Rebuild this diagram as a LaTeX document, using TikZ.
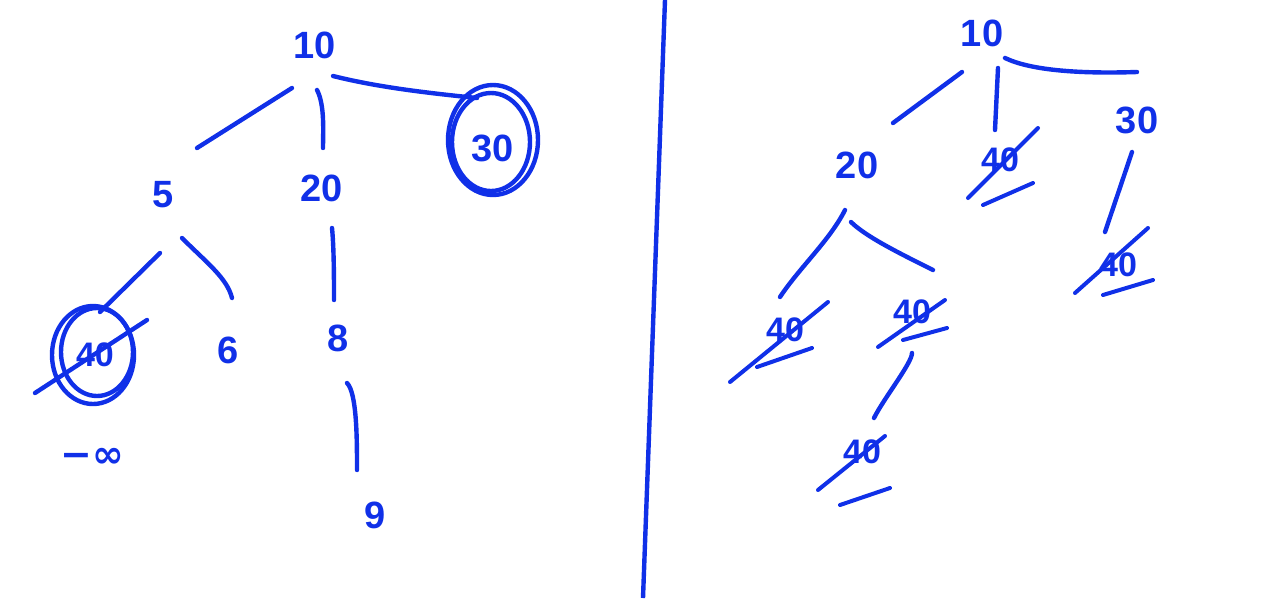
\documentclass[tikz,border=0pt]{standalone}
\usepackage{fontspec}
\setmainfont{Liberation Sans}
\newfontfamily\symfont{DejaVu Sans}
\definecolor{ink}{RGB}{16,48,232}
\begin{document}
\begin{tikzpicture}[x=1pt,y=-1pt,
  every node/.style={text=ink},
  lab/.style={font=\fontsize{38}{40}\selectfont\bfseries, inner sep=0pt},
  slab/.style={font=\fontsize{34}{36}\selectfont\bfseries, inner sep=0pt},
  pen/.style={draw=ink, line width=4.4pt, line cap=round, line join=round},
  thinpen/.style={draw=ink, line width=4pt, line cap=round}]
\useasboundingbox (0,0) rectangle (1278,598);
% ---------- left tree ----------
\node[lab] (n10) at (315,45) {10};
\node[lab] (n5) at (163,195) {5};
\node[lab] (n20) at (322,188) {20};
\node[lab] (n30) at (493,148) {30};
\node[slab] (n40) at (95,355) {40};
\node[lab] (n6) at (228,350) {6};
\node[lab] (n8) at (338,338) {8};
\node[lab] (ninf) at (92,458) {\symfont −∞};
\node[lab] (n9) at (375,515) {9};
\draw[pen] ([shift={(-23,43)}]n10.center) -- ([shift={(34,-47)}]n5.center);
\draw[pen] ([shift={(2,45)}]n10.center) .. controls +(8,15) and +(0,-15) .. ([shift={(1,-40)}]n20.center);
\draw[pen] ([shift={(18,31)}]n10.center) .. controls +(40,10) and +(-60,-6) .. ([shift={(-16,-50)}]n30.center);
\draw[pen] ([shift={(-3,58)}]n5.center) -- ([shift={(5,-43)}]n40.center);
\draw[pen] ([shift={(19,43)}]n5.center) .. controls +(25,25) and +(-5,-20) .. ([shift={(4,-52)}]n6.center);
\draw[pen] ([shift={(10,40)}]n20.center) .. controls +(2,20) and +(0,-20) .. ([shift={(-4,-38)}]n8.center);
\draw[pen] ([shift={(9,45)}]n8.center) .. controls +(10,10) and +(0,-30) .. ([shift={(-18,-45)}]n9.center);
% circles and strike
\draw[pen] ([shift={(0,-8)}]n30.center) ellipse [x radius=45, y radius=55];
\draw[pen] ([shift={(-2,-6)}]n30.center) ellipse [x radius=39, y radius=49];
\draw[pen] ([shift={(-2,0)}]n40.center) ellipse [x radius=41, y radius=49];
\draw[pen] ([shift={(2,-3)}]n40.center) ellipse [x radius=36, y radius=44];
\draw[pen] ([shift={(-60,38)}]n40.center) -- ([shift={(52,-35)}]n40.center);
% ---------- divider ----------
\coordinate (dtop) at (665,0);
\coordinate (dbot) at (643,598);
\draw[draw=ink, line width=4.4pt] (dtop) -- (dbot);
% ---------- right tree ----------
\node[lab] (m10) at (982,33) {10};
\node[lab] (m20) at (857,165) {20};
\node[slab] (m40a) at (1000,160) {40};
\node[lab] (m30) at (1137,120) {30};
\node[slab] (m40b) at (1118,265) {40};
\node[slab] (m40c) at (785,330) {40};
\node[slab] (m40d) at (912,312) {40};
\node[slab] (m40e) at (862,452) {40};
\draw[pen] ([shift={(-20,39)}]m10.center) -- ([shift={(36,-42)}]m20.center);
\draw[pen] ([shift={(16,35)}]m10.center) -- ([shift={(-5,-30)}]m40a.center);
\draw[pen] ([shift={(23,25)}]m10.center) .. controls +(25,12) and +(-60,2) .. ([shift={(0,-48)}]m30.center);
\draw[pen] ([shift={(-5,32)}]m30.center) -- ([shift={(-13,-33)}]m40b.center);
\draw[pen] ([shift={(-12,45)}]m20.center) .. controls +(-15,30) and +(20,-30) .. ([shift={(-5,-33)}]m40c.center);
\draw[pen] ([shift={(-6,57)}]m20.center) .. controls +(15,15) and +(-30,-15) .. ([shift={(21,-42)}]m40d.center);
\draw[pen] ([shift={(0,41)}]m40d.center) .. controls +(0,10) and +(10,-20) .. ([shift={(12,-34)}]m40e.center);
% strikes and underlines
\draw[thinpen] ([shift={(-32,38)}]m40a.center) -- ([shift={(38,-32)}]m40a.center);
\draw[thinpen] ([shift={(-17,45)}]m40a.center) -- ([shift={(33,23)}]m40a.center);
\draw[thinpen] ([shift={(-43,28)}]m40b.center) -- ([shift={(30,-37)}]m40b.center);
\draw[thinpen] ([shift={(-15,30)}]m40b.center) -- ([shift={(35,15)}]m40b.center);
\draw[thinpen] ([shift={(-55,52)}]m40c.center) -- ([shift={(43,-28)}]m40c.center);
\draw[thinpen] ([shift={(-28,37)}]m40c.center) -- ([shift={(27,18)}]m40c.center);
\draw[thinpen] ([shift={(-34,35)}]m40d.center) -- ([shift={(33,-12)}]m40d.center);
\draw[thinpen] ([shift={(-9,28)}]m40d.center) -- ([shift={(35,16)}]m40d.center);
\draw[thinpen] ([shift={(-44,38)}]m40e.center) -- ([shift={(23,-16)}]m40e.center);
\draw[thinpen] ([shift={(-22,53)}]m40e.center) -- ([shift={(28,36)}]m40e.center);
\end{tikzpicture}
\end{document}
